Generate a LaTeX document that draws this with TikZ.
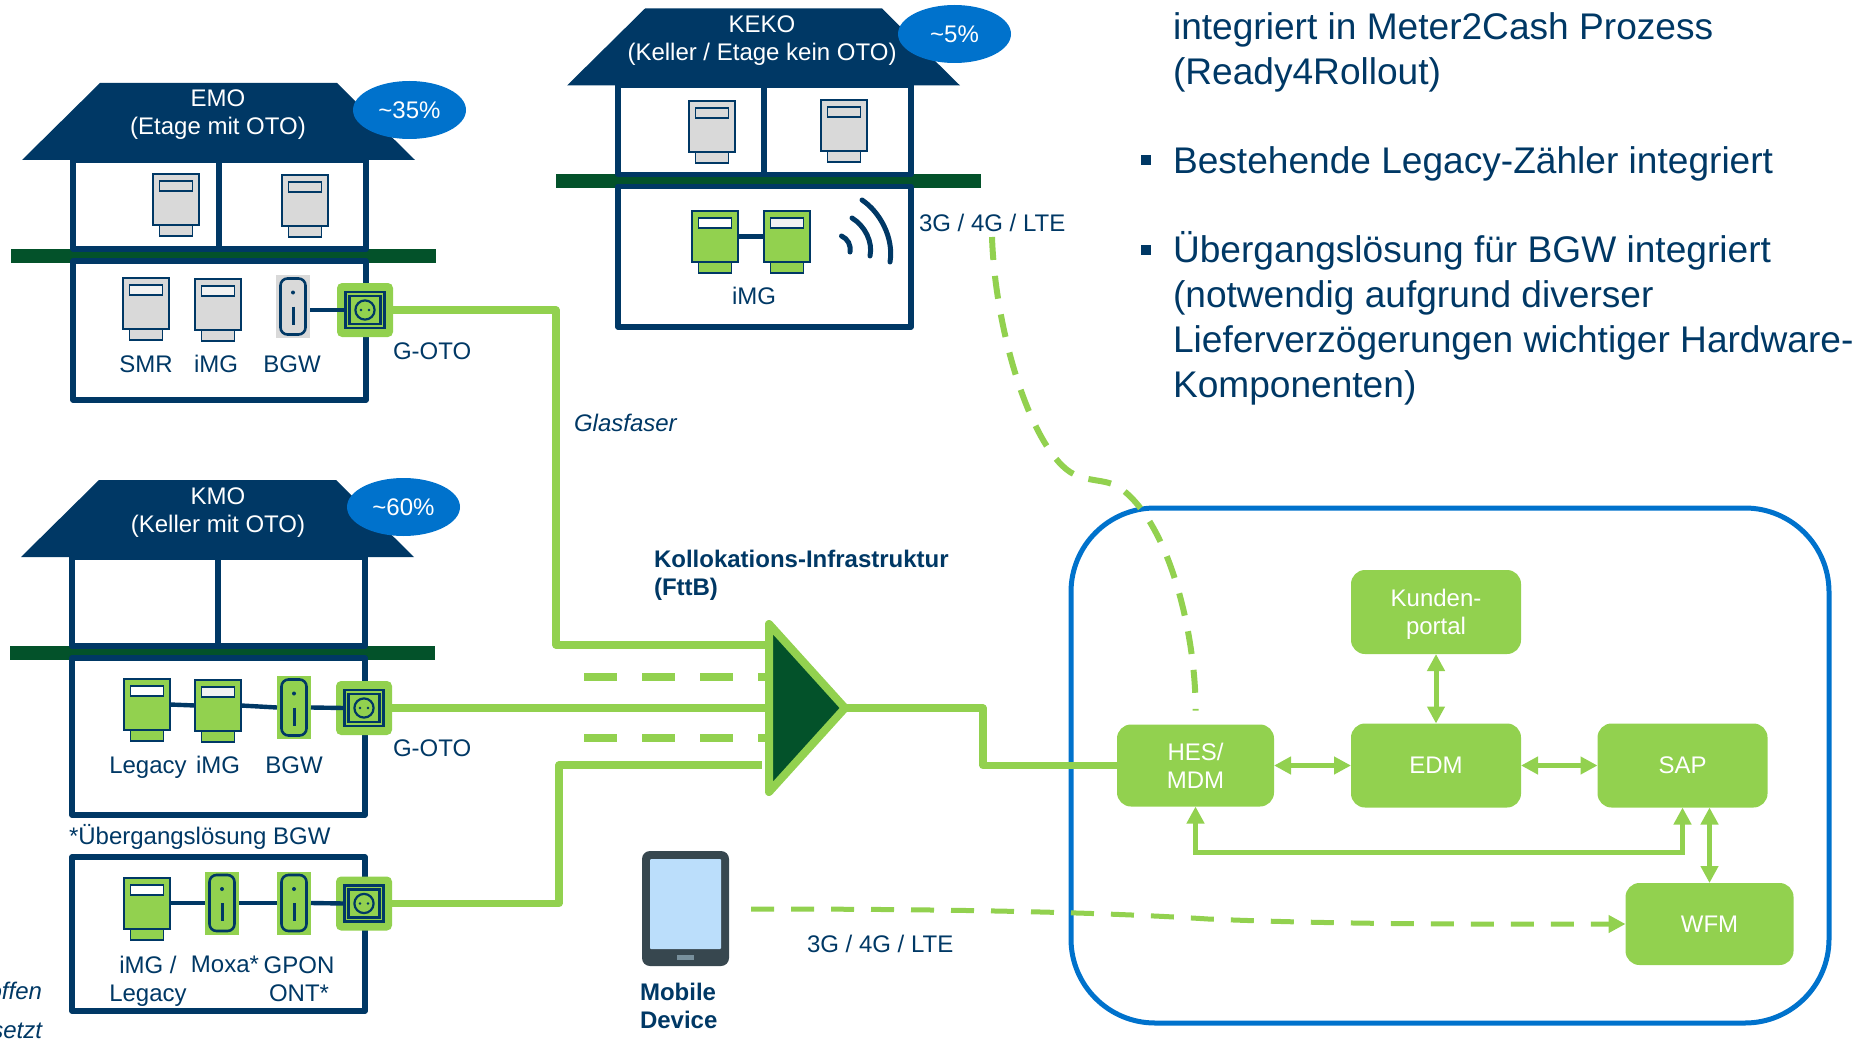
\documentclass[tikz,border=0pt]{standalone}
\usepackage{fontspec}
\setmainfont{Liberation Sans}
\usetikzlibrary{arrows.meta,positioning,calc,shapes.geometric}

\definecolor{navy}{HTML}{003865}
\definecolor{lime}{HTML}{92D14F}
\definecolor{forest}{HTML}{03522A}
\definecolor{sky}{HTML}{0072CC}
\definecolor{tabletBody}{HTML}{37474F}
\definecolor{tabletScreen}{HTML}{BBDEFB}
\definecolor{tabletKey}{HTML}{78909C}

\tikzset{
    label12/.style={text=navy, font=\fontsize{12}{14}\selectfont, inner sep=0pt, outer sep=0pt, align=center, text depth=0pt},
    wall/.style={draw=navy, line width=2.75pt, line join=round},
    fibre/.style={draw=lime, line width=3.6pt, line join=round},
    radio/.style={draw=lime, line width=3pt, dash pattern=on 11.5pt off 8pt},
    link/.style={draw=lime, line width=2.5pt, >={Triangle[length=8.5pt,width=8.5pt]}},
    wire/.style={draw=navy, line width=2.2pt},
    system/.style={fill=lime, rounded corners=7pt, minimum width=85pt, minimum height=42pt,
        text=white, font=\fontsize{12}{14}\selectfont, align=center, inner sep=0pt, outer sep=0pt, text depth=0pt},
    share/.style={ellipse, fill=sky, minimum width=56.5pt, minimum height=29pt, text=white,
        font=\fontsize{12}{14}\selectfont, inner sep=0pt, outer sep=0pt},
    housecap/.style={text=white, font=\fontsize{12}{14}\selectfont, align=center, inner sep=0pt, text depth=0pt},
    bulletbox/.style={fill=navy, minimum size=5pt, inner sep=0pt, outer sep=0pt},
    bodytext/.style={text=navy, font=\fontsize{18.55}{22.5}\selectfont, align=left, inner sep=0pt, outer sep=0pt, anchor=base west},
    part/.style={draw=navy, line width=.85pt, inner sep=0pt, outer sep=0pt}
}

% meter: name, x, y of the top edge, colour, colour of the window
\newcommand{\meter}[5]{
    \node[part, fill=#4, minimum width=23pt, minimum height=25.5pt, anchor=north] (#1) at (#2,#3) {};
    \node[part, fill=#4, minimum width=16.5pt, minimum height=5.5pt, anchor=north] (#1foot) at (#1.south) {};
    \node[part, fill=#5, minimum width=16.5pt, minimum height=5pt, anchor=north] (#1win) at ($(#1.north)+(0,-3.5pt)$) {};
}
% router: name, x, y of the middle, colour
\newcommand{\router}[4]{
    \node[fill=#4, minimum width=17pt, minimum height=31.5pt, inner sep=0pt, outer sep=0pt] (#1) at (#2,#3) {};
    \node[draw=navy, line width=1.3pt, rounded corners=3.5pt, minimum width=12.5pt, minimum height=28pt, inner sep=0pt] (#1body) at (#1) {};
    \fill[navy] ($(#1)+(0,7pt)$) circle (1pt);
    \draw[navy, line width=1.5pt] ($(#1)+(0,0pt)$) -- ($(#1)+(0,-9pt)$);
}
% socket: name, x, y of the middle
\newcommand{\socket}[3]{
    \node[fill=lime, rounded corners=2.5pt, minimum width=28pt, minimum height=27pt, inner sep=0pt, outer sep=0pt] (#1) at (#2,#3) {};
    \node[part, minimum width=19.5pt, minimum height=18pt, line width=1.1pt] (#1a) at (#1) {};
    \node[part, minimum width=15.5pt, minimum height=14pt, line width=1.1pt] (#1b) at (#1) {};
    \draw[navy, line width=1.1pt] (#1) circle (4.8pt);
    \fill[navy] ($(#1)+(-2pt,0)$) circle (.7pt) ($(#1)+(2pt,0)$) circle (.7pt);
}
% house: bottom of the lower floor
\newcommand{\house}[1]{
    \fill[forest] (11,249) rectangle (436,263);
    \draw[wall] (73,160) rectangle (366,249);
    \draw[wall] (219,160) -- (219,249);
    \draw[wall] (73,261) rectangle (366,#1);
    \fill[navy] (100,83) -- (337,83) -- (415,160) -- (22,160) -- cycle;
}

\begin{document}
\begin{tikzpicture}[x=.5pt,y=-.5pt]
    \useasboundingbox (0,0) rectangle (1856,1043);
    \clip (0,0) rectangle (1856,1043);

    % the building EMO
    \house{400}
    \node[housecap] (emoCap) at (218,112) {EMO\\(Etage mit OTO)};
    \node[share] (emoShare) at (409.5,110) {\textasciitilde35\%};
    \meter{emoA}{176}{174}{black!15}{black!15}
    \meter{emoB}{305}{175}{black!15}{black!15}
    \meter{emoSMR}{146}{278}{black!15}{black!5}
    \meter{emoIMG}{218}{279}{black!15}{black!5}
    \router{emoBGW}{293}{306.5}{black!15}
    \socket{emoOTO}{365}{310}
    \draw[wire] (emoBGW.east |- emoOTO) -- (emoOTOa.west);
    \node[label12] (emoL1) at (146,364) {SMR};
    \node[label12] (emoL2) at (216,364) {iMG};
    \node[label12] (emoL3) at (292,364) {BGW};
    \node[label12, anchor=west] (emoL4) at (393,351) {G-OTO};

    % the building KMO
    \begin{scope}[shift={(-1,397)}]
        \house{418}
    \end{scope}
    \node[housecap] (kmoCap) at (218,510) {KMO\\(Keller mit OTO)};
    \node[share] (kmoShare) at (403.5,507) {\textasciitilde60\%};
    \meter{kmoLeg}{147}{679}{lime}{white}
    \meter{kmoIMG}{218}{680}{lime}{black!5}
    \router{kmoBGW}{294}{707.5}{lime}
    \socket{kmoOTO}{364}{708}
    \draw[wire] (kmoLeg.east) -- (kmoIMG.west);
    \draw[wire] (kmoIMG.east) -- (kmoBGW.west);
    \draw[wire] (kmoBGW.east) -- (kmoOTOa.west);
    \node[label12] (kmoL1) at (148,765) {Legacy};
    \node[label12] (kmoL2) at (218,765) {iMG};
    \node[label12] (kmoL3) at (294,765) {BGW};
    \node[label12, anchor=west] (kmoL4) at (393,748) {G-OTO};

    % transition solution
    \node[label12, anchor=west] (noteBGW) at (69,834) {*Übergangslösung BGW};
    \draw[wall] (72,857) rectangle (365,1011);
    \meter{altIMG}{147}{878}{lime}{white}
    \router{altMoxa}{222}{903}{lime}
    \router{altONT}{294}{903}{lime}
    \socket{altOTO}{364}{903.5}
    \draw[wire] (altIMG.east |- altMoxa) -- (altMoxa.west);
    \draw[wire] (altMoxa.east) -- (altONT.west);
    \draw[wire] (altONT.east) -- (altOTOa.west);
    \node[label12] (altL1) at (148,979) {iMG /\\Legacy};
    \node[label12] (altL2) at (225,964) {Moxa*};
    \node[label12] (altL3) at (299,979) {GPON\\ONT*};
    \node[label12, anchor=base east, font=\fontsize{12}{14}\selectfont\itshape] (cutA) at (42,999) {offen};
    \node[label12, anchor=base east, font=\fontsize{12}{14}\selectfont\itshape] (cutB) at (42,1038) {setzt};

    % the building KEKO
    \begin{scope}[shift={(545,-74.5)}]
        \house{401.5}
    \end{scope}
    \node[housecap] (kekoCap) at (762,38) {KEKO\\(Keller / Etage kein OTO)};
    \node[share] (kekoShare) at (954.5,34) {\textasciitilde5\%};
    \meter{kekoA}{712}{101}{black!15}{black!15}
    \meter{kekoB}{844}{100}{black!15}{black!15}
    \meter{kekoC}{715}{211}{lime}{white}
    \meter{kekoD}{787}{211}{lime}{black!5}
    \draw[wire] (kekoC.east) -- (kekoD.west);
    \node[label12] (kekoL1) at (754,296) {iMG};
    \draw[navy, line width=2.5pt, line cap=round] (841.5,236) .. controls (848,239) and (851,245) .. (850,252);
    \draw[navy, line width=2.5pt, line cap=round] (852,218) .. controls (865,226) and (873,242) .. (870,256);
    \draw[navy, line width=2.5pt, line cap=round] (862,200) .. controls (880,212) and (894,238) .. (890,262);
    \node[label12, anchor=west] (radioA) at (919,223) {3G / 4G / LTE};

    % the systems
    \node[draw=sky, line width=2.5pt, rounded corners=42pt, minimum width=379pt, minimum height=257.5pt, outer sep=0pt] (backend) at (1450,765.5) {};
    \node[system] (portal) at (1436,612) {Kunden-\\portal};
    \node[system, minimum width=78.5pt, minimum height=41pt] (HES) at (1195.5,765.5) {HES/\\MDM};
    \node[system] (EDM) at (1436,765.5) {EDM};
    \node[system] (SAP) at (1682.5,765.5) {SAP};
    \node[system, minimum width=84pt, minimum height=41pt] (WFM) at (1709.5,924) {WFM};
    \draw[link,<->] (portal) -- (EDM);
    \draw[link,<->] (HES) -- (EDM);
    \draw[link,<->] (EDM) -- (SAP);
    \draw[link,<->] (HES.south) -- ++(0,46) -| (SAP.south);
    \draw[link,<->] (SAP.south -| WFM.north) -- (WFM.north);

    % the fibres
    \coordinate (fttbTop) at (769,624);
    \coordinate (fttbBottom) at (769,792);
    \coordinate (fttbTip) at (845,708);
    \draw[fibre] (emoOTO.east) -| (556,645) -- (fttbTop |- 0,645);
    \draw[fibre] (kmoOTO.east) -- (fttbTop |- kmoOTO);
    \draw[fibre] (altOTO.east) -| (559,765) -- (762,765);
    \draw[fibre, dash pattern=on 16.5pt off 12.5pt] (584,677) -- (769,677);
    \draw[fibre, dash pattern=on 16.5pt off 12.5pt] (584,738) -- (769,738);
    \draw[fibre] (fttbTip) -- (983,708) |- (HES.west);
    \draw[fibre, line width=4pt, fill=forest] (fttbTop) -- (fttbTip) -- (fttbBottom) -- cycle;
    \node[label12, anchor=west, font=\fontsize{12}{14}\selectfont\itshape] (fibreName) at (574,423) {Glasfaser};
    \node[label12, anchor=west, align=left, font=\fontsize{12}{14}\selectfont\bfseries] (fttbName) at (654,573) {Kollokations-Infrastruktur\\(FttB)};

    % the radio links
    \draw[radio, shorten >=7pt] (992,237) .. controls (995,330) and (1030,445) .. (1070,472)
        .. controls (1090,484) and (1108,477) .. (1124,491)
        .. controls (1172,530) and (1196,640) .. (HES.north);
    \node[fill=tabletBody, rounded corners=4pt, minimum width=43.5pt, minimum height=57.5pt, inner sep=0pt, outer sep=0pt] (tablet) at (685.5,908.5) {};
    \node[fill=tabletScreen, rounded corners=.5pt, minimum width=35.5pt, minimum height=45pt, inner sep=0pt] (screen) at (685.5,904) {};
    \node[fill=tabletKey, minimum width=8.5pt, minimum height=2.5pt, inner sep=0pt] (button) at (685.5,957.5) {};
    \node[label12, anchor=west, align=left, font=\fontsize{12}{14}\selectfont\bfseries] (tabletName) at (640,1005.5) {Mobile\\Device};
    \draw[link, dash pattern=on 11.5pt off 8.5pt, ->] (751,909) .. controls (950,909) and (1100,912) .. (1208,919)
        .. controls (1350,925) and (1500,924) .. (WFM.west);
    \node[label12, anchor=west] (radioB) at (807,944) {3G / 4G / LTE};

    % the text
    \node[bodytext] (textA) at (1173,85) {integriert in Meter2Cash Prozess\\(Ready4Rollout)};
    \node[bulletbox] (bulletA) at (1145.5,160) {};
    \node[bodytext] (textB) at (1173,174) {Bestehende Legacy-Zähler integriert};
    \node[bulletbox] (bulletB) at (1145.5,250) {};
    \node[bodytext] (textC) at (1173,397.6) {Übergangslösung für BGW integriert\\(notwendig aufgrund diverser\\Lieferverzögerungen wichtiger Hardware-\\Komponenten)};
\end{tikzpicture}
\end{document}
